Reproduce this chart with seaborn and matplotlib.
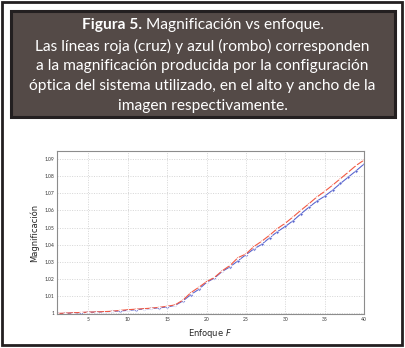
import numpy as np
import pandas as pd
import matplotlib
matplotlib.use("Agg")
import matplotlib.pyplot as plt
import seaborn as sns
from matplotlib.patches import Rectangle

# datos
enfoque = list(range(1, 41))
mag_alto = [1.0000, 1.0002, 1.0004, 1.0006, 1.0008, 1.0009, 1.0011, 1.0013, 1.0018, 1.0022,
            1.0025, 1.0028, 1.0031, 1.0036, 1.0042, 1.0050, 1.0078, 1.0121, 1.0152, 1.0185,
            1.0210, 1.0249, 1.0280, 1.0325, 1.0346, 1.0389, 1.0420, 1.0455, 1.0494, 1.0525,
            1.0562, 1.0601, 1.0638, 1.0677, 1.0710, 1.0746, 1.0784, 1.0822, 1.0861, 1.0892]
mag_ancho = [1.0000, 1.0000, 1.0003, 1.0005, 1.0007, 1.0008, 1.0010, 1.0012, 1.0015, 1.0018,
             1.0022, 1.0026, 1.0029, 1.0033, 1.0038, 1.0047, 1.0073, 1.0110, 1.0140, 1.0181,
             1.0206, 1.0245, 1.0272, 1.0307, 1.0342, 1.0375, 1.0402, 1.0440, 1.0476, 1.0506,
             1.0540, 1.0580, 1.0618, 1.0653, 1.0682, 1.0717, 1.0756, 1.0793, 1.0830, 1.0869]
y_ticks = [1.00, 1.01, 1.02, 1.03, 1.04, 1.05, 1.06, 1.07, 1.08, 1.09]
y_labels = ["1", "1.01", "1.02", "1.03", "1.04", "1.05", "1.06", "1.07", "1.08", "1.09"]
x_ticks = [5, 10, 15, 20, 25, 30, 35, 40]

sns.set_style("whitegrid")
plt.rcParams["font.family"] = ["Lato", "DejaVu Sans"]

fig = plt.figure(figsize=(4.05, 3.48), dpi=100)

# marco exterior
fig.patches.append(Rectangle((1.5 / 405, 1 - 345 / 348), 400.5 / 405, 343 / 348,
                             transform=fig.transFigure, fill=False,
                             edgecolor="#231f20", linewidth=2.0))
# caja del título
fig.patches.append(Rectangle((10.5 / 405, 1 - 117 / 348), 384.5 / 405, 106 / 348,
                             transform=fig.transFigure, facecolor="#544a47",
                             edgecolor="#231f20", linewidth=2.2))

lineas = [
    "Las líneas roja (cruz) y azul (rombo) corresponden",
    "a la magnificación producida por la configuración",
    "óptica del sistema utilizado, en el alto y ancho de la",
    "imagen respectivamente.",
]
fs = 11.2
t1 = fig.text(0, 1 - 25 / 348, "Figura 5.", color="white", fontsize=fs,
              fontweight="bold", va="center", ha="left")
t2 = fig.text(0, 1 - 25 / 348, " Magnificación vs enfoque.", color="white",
              fontsize=fs, va="center", ha="left")
fig.canvas.draw()
r = fig.canvas.get_renderer()
w1 = t1.get_window_extent(r).width
w2 = t2.get_window_extent(r).width
x0 = (405 / 2 - (w1 + w2) / 2) / 405
t1.set_x(x0)
t2.set_x(x0 + w1 / 405)
for i, s in enumerate(lineas):
    fig.text(0.5, 1 - (46 + 20 * i) / 348, s, color="white", fontsize=fs,
             va="center", ha="center")

ax = fig.add_axes([57 / 405, 1 - 314 / 348, 307 / 405, 163 / 348])
sns.lineplot(x=enfoque, y=mag_ancho, color="#5a66cf", marker="D",
             markersize=1.8, linewidth=0.8, markeredgewidth=0.3, ax=ax)
sns.lineplot(x=enfoque, y=mag_alto, color="#f25a44", marker="+",
             markersize=2.6, linewidth=0.8, markeredgewidth=0.6, ax=ax)

ax.set_xlim(1, 40)
ax.set_ylim(0.9997, 1.0945)
ax.set_xticks(x_ticks)
ax.set_yticks(y_ticks)
ax.set_yticklabels(y_labels)
ax.tick_params(labelsize=3.6, colors="#333333", length=1.5, direction="in", pad=2)
ax.grid(True, linestyle=(0, (1.5, 2)), color="#c8c8c8", linewidth=0.5)
for sp in ax.spines.values():
    sp.set_color("#8c8c8c")
    sp.set_linewidth(0.8)
ax.set_xlabel("Enfoque $\\it{F}$", fontsize=6, labelpad=4, family="DejaVu Sans")
ax.set_ylabel("Magnificación", fontsize=6, labelpad=4, family="DejaVu Sans")

fig.savefig("out.png", dpi=100)
